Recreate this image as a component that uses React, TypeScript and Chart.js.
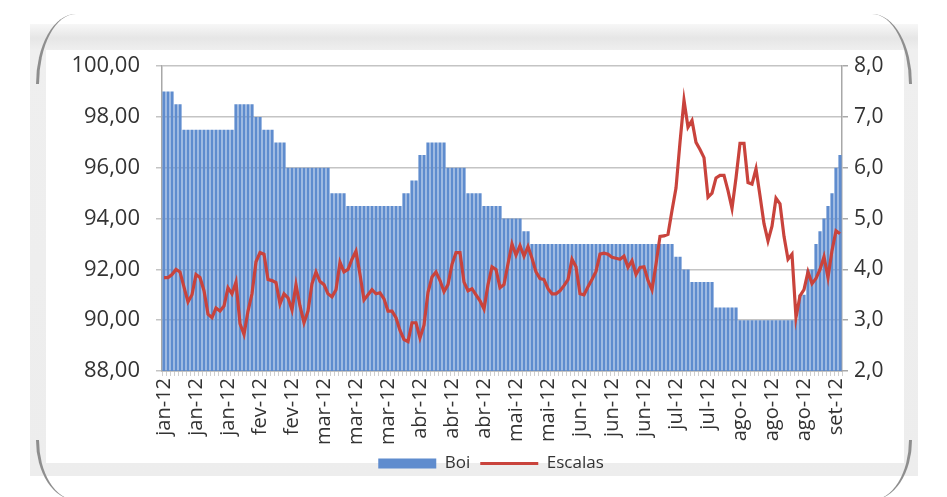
import React, { useEffect, useRef } from 'react';
import { Chart, registerables } from 'chart.js';

Chart.register(...registerables);

const tickLabels = [
  'jan-12', 'jan-12', 'jan-12', 'fev-12', 'fev-12', 'mar-12', 'mar-12', 'mar-12',
  'abr-12', 'abr-12', 'abr-12', 'mai-12', 'mai-12', 'jun-12', 'jun-12', 'jun-12',
  'jul-12', 'jul-12', 'ago-12', 'ago-12', 'ago-12', 'set-12',
];

const boiValues = [
  99.0, 99.0, 99.0, 98.5, 98.5, 97.5, 97.5, 97.5, 97.5, 97.5,
  97.5, 97.5, 97.5, 97.5, 97.5, 97.5, 97.5, 97.5, 98.5, 98.5,
  98.5, 98.5, 98.5, 98.0, 98.0, 97.5, 97.5, 97.5, 97.0, 97.0,
  97.0, 96.0, 96.0, 96.0, 96.0, 96.0, 96.0, 96.0, 96.0, 96.0,
  96.0, 96.0, 95.0, 95.0, 95.0, 95.0, 94.5, 94.5, 94.5, 94.5,
  94.5, 94.5, 94.5, 94.5, 94.5, 94.5, 94.5, 94.5, 94.5, 94.5,
  95.0, 95.0, 95.5, 95.5, 96.5, 96.5, 97.0, 97.0, 97.0, 97.0,
  97.0, 96.0, 96.0, 96.0, 96.0, 96.0, 95.0, 95.0, 95.0, 95.0,
  94.5, 94.5, 94.5, 94.5, 94.5, 94.0, 94.0, 94.0, 94.0, 94.0,
  93.5, 93.5, 93.0, 93.0, 93.0, 93.0, 93.0, 93.0, 93.0, 93.0,
  93.0, 93.0, 93.0, 93.0, 93.0, 93.0, 93.0, 93.0, 93.0, 93.0,
  93.0, 93.0, 93.0, 93.0, 93.0, 93.0, 93.0, 93.0, 93.0, 93.0,
  93.0, 93.0, 93.0, 93.0, 93.0, 93.0, 93.0, 93.0, 92.5, 92.5,
  92.0, 92.0, 91.5, 91.5, 91.5, 91.5, 91.5, 91.5, 90.5, 90.5,
  90.5, 90.5, 90.5, 90.5, 90.0, 90.0, 90.0, 90.0, 90.0, 90.0,
  90.0, 90.0, 90.0, 90.0, 90.0, 90.0, 90.0, 90.0, 90.0, 91.0,
  91.0, 92.0, 92.0, 93.0, 93.5, 94.0, 94.5, 95.0, 96.0, 96.5,
];

const escalasValues = [
  3.84, 3.84, 3.90, 4.00, 3.95, 3.65, 3.36, 3.50, 3.90, 3.84,
  3.58, 3.12, 3.05, 3.24, 3.18, 3.28, 3.64, 3.52, 3.75, 2.93,
  2.72, 3.18, 3.52, 4.15, 4.33, 4.30, 3.80, 3.78, 3.74, 3.32,
  3.52, 3.44, 3.20, 3.70, 3.28, 2.95, 3.18, 3.72, 3.95, 3.76,
  3.70, 3.52, 3.46, 3.60, 4.14, 3.95, 4.00, 4.20, 4.36, 3.90,
  3.40, 3.50, 3.60, 3.52, 3.54, 3.42, 3.18, 3.18, 3.05, 2.80,
  2.62, 2.58, 2.95, 2.95, 2.65, 2.90, 3.55, 3.85, 3.95, 3.78,
  3.56, 3.70, 4.10, 4.33, 4.33, 3.75, 3.58, 3.62, 3.50, 3.38,
  3.22, 3.70, 4.05, 4.00, 3.64, 3.70, 4.11, 4.50, 4.28, 4.47,
  4.26, 4.45, 4.22, 3.95, 3.82, 3.80, 3.62, 3.52, 3.52, 3.58,
  3.68, 3.80, 4.20, 4.05, 3.52, 3.50, 3.66, 3.80, 3.96, 4.30,
  4.32, 4.30, 4.24, 4.22, 4.20, 4.26, 4.04, 4.17, 3.90, 4.04,
  4.05, 3.78, 3.60, 4.10, 4.65, 4.66, 4.69, 5.16, 5.60, 6.50,
  7.33, 6.80, 6.93, 6.50, 6.36, 6.20, 5.42, 5.50, 5.80, 5.85,
  5.85, 5.55, 5.20, 5.80, 6.48, 6.48, 5.71, 5.68, 5.98, 5.45,
  4.90, 4.56, 4.85, 5.40, 5.29, 4.65, 4.20, 4.30, 3.05, 3.48,
  3.60, 3.95, 3.72, 3.82, 4.00, 4.25, 3.84, 4.37, 4.76, 4.70,
];

const categories = boiValues.map((_, i) => String(i));
const LABEL_EVERY = 8;

const BLUE = '#5f8cce';
const RED = '#c9433c';
const FONT = "'Open Sans', 'Noto Sans', sans-serif";

export default function App() {
  const ref = useRef<HTMLCanvasElement>(null);

  useEffect(() => {
    if (!ref.current) return;
    const chart = new Chart(ref.current, {
      type: 'bar',
      data: {
        labels: categories,
        datasets: [
          {
            type: 'line',
            label: 'Escalas',
            data: escalasValues,
            yAxisID: 'y1',
            borderColor: RED,
            backgroundColor: RED,
            borderWidth: 3.2,
            pointRadius: 0,
            tension: 0,
            order: 0,
          } as any,
          {
            type: 'bar',
            label: 'Boi',
            data: boiValues,
            yAxisID: 'y',
            backgroundColor: BLUE,
            borderWidth: 0,
            barPercentage: 1,
            categoryPercentage: 0.8,
            order: 1,
          } as any,
        ],
      },
      options: {
        responsive: false,
        animation: false,
        layout: { padding: { top: 0, left: 0, right: 0, bottom: 0 } },
        plugins: {
          tooltip: { enabled: false },
          legend: {
            position: 'bottom',
            labels: {
              usePointStyle: true,
              pointStyleWidth: 58,
              boxHeight: 10,
              padding: 10,
              color: '#333333',
              font: { family: FONT, size: 17 },
              generateLabels: () => [
                {
                  text: 'Boi',
                  fillStyle: BLUE,
                  strokeStyle: BLUE,
                  lineWidth: 0,
                  pointStyle: 'rect',
                  datasetIndex: 1,
                  fontColor: '#333333',
                } as any,
                {
                  text: 'Escalas',
                  fillStyle: RED,
                  strokeStyle: RED,
                  lineWidth: 3,
                  pointStyle: 'line',
                  datasetIndex: 0,
                  fontColor: '#333333',
                } as any,
              ],
            },
          },
        },
        scales: {
          x: {
            grid: {
              display: true,
              drawOnChartArea: false,
              drawTicks: true,
              tickLength: 5,
              color: '#cfcfcf',
            },
            border: { display: true, color: '#a8a8a8', width: 1.5 },
            ticks: {
              autoSkip: false,
              minRotation: 90,
              maxRotation: 90,
              padding: 2,
              color: '#333333',
              font: { family: FONT, size: 20 },
              callback: (_v: any, i: number) =>
                i % LABEL_EVERY === 0 ? tickLabels[i / LABEL_EVERY] : '',
            },
            afterFit: (s: any) => {
              s.height = 74;
            },
          },
          y: {
            position: 'left',
            min: 88,
            max: 100,
            ticks: {
              stepSize: 2,
              padding: 16,
              color: '#333333',
              font: { family: FONT, size: 22 },
              callback: (v: any) => Number(v).toFixed(2).replace('.', ','),
            },
            grid: { color: '#c4c4c4', lineWidth: 1.5, tickLength: 6 },
            border: { display: true, color: '#a8a8a8', width: 1.5 },
            afterFit: (s: any) => {
              s.width = 116;
            },
          },
          y1: {
            position: 'right',
            min: 2,
            max: 8,
            ticks: {
              stepSize: 1,
              padding: 6,
              color: '#333333',
              font: { family: FONT, size: 21 },
              callback: (v: any) => Number(v).toFixed(1).replace('.', ','),
            },
            grid: { drawOnChartArea: false, tickLength: 6, color: '#a8a8a8', lineWidth: 1.5 },
            border: { display: true, color: '#a8a8a8', width: 1.5 },
            afterFit: (s: any) => {
              s.width = 94;
            },
          },
        },
      } as any,
    });
    return () => chart.destroy();
  }, []);

  const swoosh = (style: React.CSSProperties): React.CSSProperties => ({
    position: 'absolute',
    boxSizing: 'border-box',
    ...style,
  });

  return (
    <div
      style={{
        position: 'absolute',
        left: 0,
        top: 0,
        width: 947,
        height: 497,
        background: '#ffffff',
        overflow: 'hidden',
      }}
    >
      <div
        style={{
          position: 'absolute',
          left: 30,
          top: 24,
          width: 888,
          height: 452,
          background: 'linear-gradient(180deg, #f7f7f7 0px, #e6e6e6 14px, #efefef 26px, #ededed 100%)',
        }}
      />
      <div
        style={{
          position: 'absolute',
          left: 46,
          top: 50,
          width: 858,
          height: 413,
          background: '#ffffff',
        }}
      />
      <div style={swoosh({ left: 36, top: 14, width: 40, height: 70, borderLeft: '3px solid #8e8e8e', borderTopLeftRadius: '40px 70px' })} />
      <div style={swoosh({ left: 36, top: 440, width: 40, height: 60, borderLeft: '3px solid #8e8e8e', borderBottomLeftRadius: '40px 60px' })} />
      <div style={swoosh({ left: 872, top: 14, width: 40, height: 70, borderRight: '3px solid #8e8e8e', borderTopRightRadius: '40px 70px' })} />
      <div style={swoosh({ left: 872, top: 440, width: 40, height: 60, borderRight: '3px solid #8e8e8e', borderBottomRightRadius: '40px 60px' })} />
      <canvas
        ref={ref}
        width={890}
        height={445}
        style={{ position: 'absolute', left: 46, top: 37, width: 890, height: 445 }}
      />
    </div>
  );
}
